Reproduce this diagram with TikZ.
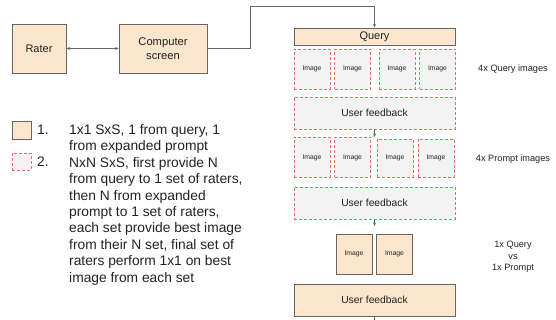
\documentclass[tikz,border=0pt]{standalone}
\usepackage{fontspec}
\setmainfont{Liberation Sans}
\usepackage{xcolor}
\usetikzlibrary{
    arrows.meta,
    calc,
    positioning
}
\definecolor{peach}{HTML}{FCE5CD}
\definecolor{boxgray}{HTML}{F3F3F3}
\definecolor{dashred}{HTML}{E6705F}
\definecolor{edgegray}{HTML}{666666}
\definecolor{ink}{HTML}{222222}

\begin{document}
\begin{tikzpicture}[x=1pt, y=-1pt,
    every node/.style={text=ink, inner sep=0pt},
    solid box/.style={draw=edgegray, fill=peach, line width=0.9pt},
    dash box/.style={draw=dashred, fill=boxgray, line width=0.9pt, dash pattern=on 3pt off 2pt},
    img/.style={minimum width=36pt, minimum height=40pt, font=\fontsize{6.8}{8}\selectfont},
    wide/.style={minimum width=161pt, minimum height=32pt, font=\fontsize{10.3}{12}\selectfont},
    note/.style={font=\fontsize{9.2}{11.5}\selectfont, align=center},
    keytext/.style={font=\fontsize{13.8}{16.4}\selectfont, align=left},
    link/.style={draw=edgegray, line width=0.8pt, -{Stealth[length=3.5pt, width=3pt]}}
]
        \useasboundingbox (0,0) rectangle (556,320);
        \node[solid box, minimum width=54pt, minimum height=49pt, font=\fontsize{11}{13}\selectfont] at (39,48.5) (rater) {Rater};
        \node[solid box, minimum width=88pt, minimum height=49pt, font=\fontsize{11.2}{13.4}\selectfont, align=center] at (163,48.5) (screen) {Computer\\screen};
        \node[solid box, minimum width=161pt, minimum height=17pt, font=\fontsize{11}{13}\selectfont] at (374.5,36.5) (query) {Query};
        \node[dash box, img] at (312,69) (q1) {Image};
        \node[dash box, img] at (352.5,69) (q2) {Image};
        \node[dash box, img] at (397,69) (q3) {Image};
        \node[dash box, img] at (437.5,69) (q4) {Image};
        \node[note] at (513,69) (qlabel) {4x Query images};
        \node[dash box, wide] at (374.5,113) (fb1) {User feedback};
        \node[dash box, img] at (312,157.5) (p1) {Image};
        \node[dash box, img] at (352.5,157.5) (p2) {Image};
        \node[dash box, img, minimum height=38pt] at (395,158.3) (p3) {Image};
        \node[dash box, img, minimum height=38pt] at (436,158.3) (p4) {Image};
        \node[note] at (513,159) (plabel) {4x Prompt images};
        \node[dash box, wide] at (374.5,203) (fb2) {User feedback};
        \node[solid box, img] at (354,254) (best1) {Image};
        \node[solid box, img] at (394.5,254) (best2) {Image};
        \node[note] at (513,257) (vlabel) {1x Query\\vs\\1x Prompt};
        \node[solid box, wide] at (374.5,300) (fb3) {User feedback};
        \node[solid box, minimum width=19pt, minimum height=18pt] at (21.5,130) (key1) {};
        \node[dash box, minimum width=19pt, minimum height=17pt] at (21.5,161.5) (key2) {};
        \node[keytext, anchor=west] at (37,129.5) (num1) {1.};
        \node[keytext, anchor=north west] at (69,124) (item1) {1x1 SxS, 1 from query, 1\\from expanded prompt};
        \node[keytext, anchor=west] at (37,162) (num2) {2.};
        \node[keytext, anchor=north west] at (69,157) (item2) {NxN SxS, first provide N\\from query to 1 set of raters,\\then N from expanded\\prompt to 1 set of raters,\\each set provide best image\\from their N set, final set of\\raters perform 1x1 on best\\image from each set};
        \coordinate (turn) at (250,6);
        \coordinate (fb2end) at (374.5,226);
        \coordinate (fb3end) at (374.5,323);
        \draw[link, {Stealth[length=3.5pt, width=3pt]}-{Stealth[length=3.5pt, width=3pt]}] (rater) -- (screen);
        \draw[link] (screen.east) -| (turn) -| (query.north);
        \draw[link] (fb1.south) -- (fb1.south |- p1.north);
        \draw[link] (fb2.south) -- (fb2end);
        \draw[link] (fb3.south) -- (fb3end);
    \end{tikzpicture}
\end{document}
